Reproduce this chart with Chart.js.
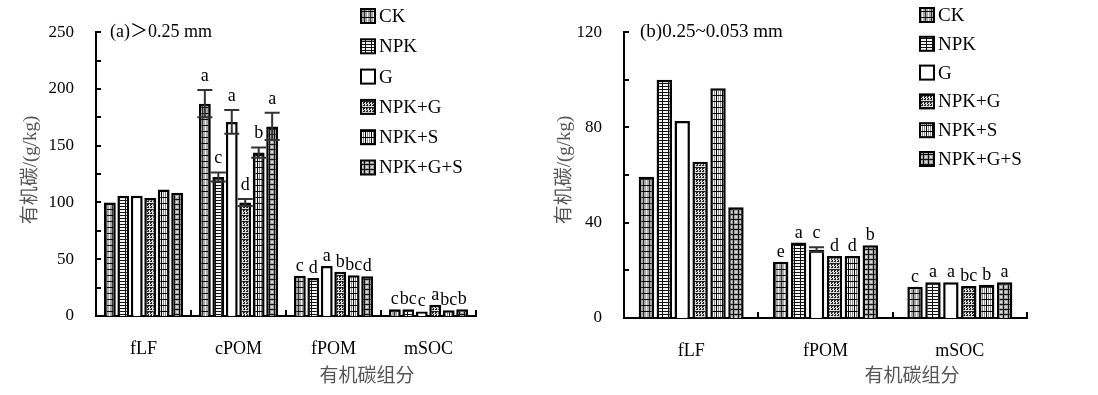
<!DOCTYPE html>
<html lang="zh">
<head>
  <meta charset="UTF-8" />
  <title>有机碳组分</title>
  <script src="https://cdn.jsdelivr.net/npm/chart.js"></script>
  <style>
    body { margin: 0; background: #fff; }
    .wrap { position: relative; width: 1098px; height: 395px; }
    .wrap canvas { position: absolute; top: 0; }
    #chartA { left: 0; }
    #chartB { left: 549px; }
  </style>
</head>
<body>
  <div class="wrap">
    <canvas id="chartA" width="549" height="395"></canvas>
    <canvas id="chartB" width="549" height="395"></canvas>
  </div>

  <script>
    const treatments = ['CK', 'NPK', 'G', 'NPK+G', 'NPK+S', 'NPK+G+S'];

    // (a) >0.25 mm
    const fractionsA = ['fLF', 'cPOM', 'fPOM', 'mSOC'];
    const ckA     = [100, 187, 35.5, 6];
    const npkA    = [106, 122.5, 33.5, 6];
    const gA      = [106, 171, 44, 4];
    const npkgA   = [104, 100, 39, 10];
    const npksA   = [111.5, 144, 36, 5];
    const npkgsA  = [108.5, 167, 35, 6];
    const ckErrA    = [0, 12, 0, 0];
    const npkErrA   = [0, 4, 0, 0];
    const gErrA     = [0, 10.5, 0, 0];
    const npkgErrA  = [0, 3, 0, 0];
    const npksErrA  = [0, 4.5, 0, 0];
    const npkgsErrA = [0, 12, 0, 0];
    const ckLetA    = ['', 'a', 'c', 'c'];
    const npkLetA   = ['', 'c', 'd', 'bc'];
    const gLetA     = ['', 'a', 'a', 'c'];
    const npkgLetA  = ['', 'd', 'b', 'a'];
    const npksLetA  = ['', 'b', 'bc', 'bc'];
    const npkgsLetA = ['', 'a', 'd', 'b'];

    // (b) 0.25~0.053 mm
    const fractionsB = ['fLF', 'fPOM', 'mSOC'];
    const ckB     = [59.3, 23.6, 13.1];
    const npkB    = [100, 31.7, 15];
    const gB      = [82.7, 28.7, 15];
    const npkgB   = [65.6, 26, 13.4];
    const npksB   = [96.5, 26, 14];
    const npkgsB  = [46.5, 30.5, 15];
    const gErrB   = [0, 1, 0];
    const ckLetB    = ['', 'e', 'c'];
    const npkLetB   = ['', 'a', 'a'];
    const gLetB     = ['', 'c', 'a'];
    const npkgLetB  = ['', 'd', 'bc'];
    const npksLetB  = ['', 'd', 'b'];
    const npkgsLetB = ['', 'b', 'a'];

    const yTicksA = { max: 250, step: 25, label: 50 };
    const yTicksB = { max: 120, step: 20, label: 40 };

    Chart.defaults.font.family = "'Liberation Serif', 'Times New Roman', serif";
    Chart.defaults.color = '#000';

    // hatch fills, roughly like the printed ones
    function makePattern(w, h, draw) {
      const c = document.createElement('canvas');
      c.width = w; c.height = h;
      const g = c.getContext('2d');
      draw(g);
      return g.createPattern(c, 'repeat');
    }
    const fills = [
      makePattern(6, 6, g => { // CK
        g.fillStyle = '#a8a8a8'; g.fillRect(0, 0, 6, 6);
        g.fillStyle = '#eee'; g.fillRect(1, 0, 1, 6);
        g.fillStyle = '#333'; g.fillRect(4, 0, 1, 6);
        g.fillStyle = '#000'; g.fillRect(0, 5, 6, 1);
      }),
      makePattern(6, 3, g => { // NPK
        g.fillStyle = '#f4f4f4'; g.fillRect(0, 0, 6, 3);
        g.fillStyle = '#111'; g.fillRect(0, 2, 6, 1); g.fillRect(5, 0, 1, 3);
      }),
      '#fff', // G
      makePattern(6, 6, g => { // NPK+G
        g.fillStyle = '#dcdcdc'; g.fillRect(0, 0, 6, 6);
        g.fillStyle = '#222';
        g.fillRect(0, 0, 2, 1); g.fillRect(0, 1, 1, 1); g.fillRect(1, 2, 1, 1); g.fillRect(0, 3, 2, 1);
        g.fillRect(3, 0, 2, 1); g.fillRect(3, 1, 1, 1); g.fillRect(4, 2, 1, 1); g.fillRect(3, 3, 2, 1);
        g.fillRect(0, 5, 6, 1);
      }),
      makePattern(6, 6, g => { // NPK+S
        g.fillStyle = '#fafafa'; g.fillRect(0, 0, 6, 6);
        g.fillStyle = '#888'; g.fillRect(1, 0, 1, 6); g.fillRect(3, 0, 1, 6);
        g.fillStyle = '#000'; g.fillRect(0, 5, 6, 1); g.fillRect(5, 0, 1, 6);
      }),
      makePattern(5, 5, g => { // NPK+G+S
        g.fillStyle = '#a0a0a0'; g.fillRect(0, 0, 5, 5);
        g.fillStyle = '#d8d8d8'; g.fillRect(1, 1, 2, 2);
        g.fillStyle = '#111'; g.fillRect(0, 4, 5, 1); g.fillRect(4, 0, 1, 5);
      })
    ];

    function makeChart(id, cfg) {
      const datasets = cfg.series.map((data, i) => ({
        label: treatments[i],
        data: data,
        backgroundColor: fills[i],
        borderColor: '#000',
        borderWidth: 2.5,
        categoryPercentage: cfg.catPct,
        barPercentage: cfg.barPct
      }));

      const extras = {
        id: 'extras',
        afterDatasetsDraw(chart) {
          const ctx = chart.ctx;
          const y = chart.scales.y;
          ctx.save();
          ctx.strokeStyle = '#333';
          ctx.lineWidth = 2;
          ctx.fillStyle = '#000';
          ctx.font = "18px 'Liberation Serif'";
          ctx.textAlign = 'center';
          ctx.textBaseline = 'alphabetic';
          cfg.series.forEach((data, i) => {
            const meta = chart.getDatasetMeta(i);
            data.forEach((v, j) => {
              const bar = meta.data[j];
              const e = cfg.errors[i] ? cfg.errors[i][j] : 0;
              let top = bar.y;
              if (e) {
                const yt = y.getPixelForValue(v + e);
                const yb = y.getPixelForValue(v - e);
                ctx.beginPath();
                ctx.moveTo(bar.x, yt); ctx.lineTo(bar.x, yb);
                ctx.moveTo(bar.x - 7.5, yt); ctx.lineTo(bar.x + 7.5, yt);
                ctx.moveTo(bar.x - 7.5, yb); ctx.lineTo(bar.x + 7.5, yb);
                ctx.stroke();
                top = yt;
              }
              const letter = cfg.letters[i][j];
              if (letter) ctx.fillText(letter, bar.x, top - (e ? 9 : 5));
            });
          });
          ctx.restore();
        },
        afterDraw(chart) {
          const ctx = chart.ctx;
          const area = chart.chartArea;
          const x = chart.scales.x, y = chart.scales.y;
          ctx.save();
          ctx.strokeStyle = '#000';
          ctx.lineWidth = 2;
          // inward y ticks
          ctx.beginPath();
          y.ticks.forEach(t => {
            const py = Math.round(y.getPixelForValue(t.value));
            ctx.moveTo(area.left, py); ctx.lineTo(area.left + 5, py);
          });
          // category separators on the x axis
          const cw = (area.right - area.left) / cfg.labels.length;
          cfg.labels.forEach((l, i) => {
            const px = Math.round(x.getPixelForValue(i) + cw / 2);
            ctx.moveTo(px, area.bottom); ctx.lineTo(px, area.bottom - 6);
          });
          ctx.stroke();

          // panel title
          ctx.fillStyle = '#000';
          ctx.font = cfg.titleSize + "px 'Liberation Serif', 'Noto Sans CJK SC'";
          ctx.textBaseline = 'middle';
          ctx.textAlign = 'left';
          ctx.fillText(cfg.title, cfg.titleX, area.top);

          // legend
          ctx.font = "19px 'Liberation Serif'";
          treatments.forEach((name, i) => {
            const cy = cfg.legY + i * cfg.legStep;
            ctx.fillStyle = fills[i];
            ctx.fillRect(cfg.legX, cy - 7, 14, 14);
            ctx.lineWidth = 2;
            ctx.strokeRect(cfg.legX, cy - 7, 14, 14);
            ctx.fillStyle = '#000';
            ctx.fillText(name, cfg.legX + 18, cy + 1);
          });

          // axis titles
          ctx.fillStyle = '#555';
          ctx.font = "19px 'Noto Sans CJK SC', 'Liberation Serif'";
          ctx.textAlign = 'center';
          ctx.fillText('有机碳组分', cfg.xTitleX, 375);
          ctx.translate(cfg.yTitleX, 170);
          ctx.rotate(-Math.PI / 2);
          ctx.font = "19px 'Liberation Serif', 'Noto Sans CJK SC'";
          ctx.fillText('有机碳/(g/kg)', 0, 0);
          ctx.restore();
        }
      };

      return new Chart(document.getElementById(id), {
        type: 'bar',
        data: { labels: cfg.labels, datasets: datasets },
        options: {
          responsive: false,
          animation: false,
          layout: { padding: { top: 19, right: cfg.padRight, left: 0, bottom: 0 } },
          plugins: { legend: { display: false }, tooltip: { enabled: false } },
          scales: {
            x: {
              grid: { display: false, drawTicks: false },
              border: { display: true, color: '#000', width: 2 },
              ticks: { font: { size: 18 }, color: '#000', padding: 22 },
              afterFit: s => { s.height = cfg.xHeight; }
            },
            y: {
              min: 0,
              max: cfg.ticks.max,
              grid: { display: false, drawTicks: false },
              border: { display: true, color: '#000', width: 2 },
              ticks: {
                stepSize: cfg.ticks.step,
                autoSkip: false,
                font: { size: 17 },
                color: '#000',
                padding: 22,
                callback: v => (v % cfg.ticks.label === 0 ? v : '')
              },
              afterFit: s => { s.width = cfg.yWidth; }
            }
          }
        },
        plugins: [extras]
      });
    }

    makeChart('chartA', {
      labels: fractionsA,
      series: [ckA, npkA, gA, npkgA, npksA, npkgsA],
      errors: [ckErrA, npkErrA, gErrA, npkgErrA, npksErrA, npkgsErrA],
      letters: [ckLetA, npkLetA, gLetA, npkgLetA, npksLetA, npkgsLetA],
      ticks: yTicksA,
      catPct: 0.85, barPct: 0.88,
      yWidth: 96, xHeight: 79, padRight: 73,
      title: '(a)＞0.25 mm', titleX: 110, titleSize: 18,
      legX: 361, legY: 16, legStep: 30.3,
      xTitleX: 367, yTitleX: 31
    });

    makeChart('chartB', {
      labels: fractionsB,
      series: [ckB, npkB, gB, npkgB, npksB, npkgsB],
      errors: [null, null, gErrB, null, null, null],
      letters: [ckLetB, npkLetB, gLetB, npkgLetB, npksLetB, npkgsLetB],
      ticks: yTicksB,
      catPct: 0.8, barPct: 0.86,
      yWidth: 75, xHeight: 77, padRight: 71,
      title: '(b)0.25~0.053 mm', titleX: 91, titleSize: 19,
      legX: 371, legY: 15, legStep: 28.8,
      xTitleX: 363, yTitleX: 16
    });
  </script>
</body>
</html>
